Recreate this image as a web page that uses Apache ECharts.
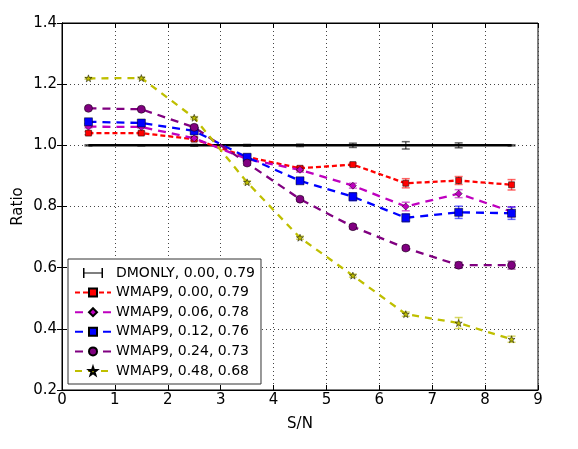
<!DOCTYPE html>
<html lang="en">
<head>
  <meta charset="UTF-8">
  <title>Ratio vs S/N</title>
  <script src="https://cdn.jsdelivr.net/npm/echarts@6/dist/echarts.min.js"></script>
  <style>
    html, body { margin: 0; padding: 0; background: #fff; }
    #chart { width: 578px; height: 449px; }
  </style>
</head>
<body>
  <div id="chart"></div>
  <script>
    // S/N bins
    var sn = [0.5, 1.5, 2.5, 3.5, 4.5, 5.5, 6.5, 7.5, 8.5]
    var xTicks = [0, 1, 2, 3, 4, 5, 6, 7, 8, 9]
    var yTicks = [0.2, 0.4, 0.6, 0.8, 1.0, 1.2, 1.4]

    // ratios
    var dmonly = [1.0, 1.0, 1.0, 1.0, 1.0, 1.0, 1.0, 1.0, 1.0]
    var dmonlyErr = [0.002, 0.002, 0.003, 0.003, 0.004, 0.007, 0.012, 0.008, 0.002]
    var w000 = [1.04, 1.04, 1.02, 0.962, 0.925, 0.937, 0.876, 0.885, 0.871]
    var w000Err = [0.005, 0.005, 0.005, 0.006, 0.006, 0.005, 0.015, 0.013, 0.017]
    var w006 = [1.061, 1.06, 1.023, 0.955, 0.92, 0.868, 0.80, 0.842, 0.783]
    var w006Err = [0.004, 0.004, 0.005, 0.006, 0.008, 0.008, 0.014, 0.013, 0.016]
    var w012 = [1.077, 1.073, 1.047, 0.961, 0.884, 0.832, 0.763, 0.781, 0.778]
    var w012Err = [0.006, 0.006, 0.008, 0.008, 0.008, 0.013, 0.013, 0.02, 0.02]
    var w024 = [1.121, 1.118, 1.059, 0.942, 0.824, 0.734, 0.664, 0.608, 0.608]
    var w024Err = [0.004, 0.004, 0.006, 0.007, 0.006, 0.007, 0.006, 0.01, 0.013]
    var w048 = [1.219, 1.22, 1.09, 0.879, 0.698, 0.574, 0.448, 0.419, 0.366]
    var w048Err = [0.003, 0.003, 0.004, 0.005, 0.005, 0.005, 0.007, 0.018, 0.01]

    var names = ['DMONLY, 0.00, 0.79', 'WMAP9, 0.00, 0.79', 'WMAP9, 0.06, 0.78',
                 'WMAP9, 0.12, 0.76', 'WMAP9, 0.24, 0.73', 'WMAP9, 0.48, 0.68']
    var values = [dmonly, w000, w006, w012, w024, w048]
    var errs = [dmonlyErr, w000Err, w006Err, w012Err, w024Err, w048Err]
    var colors = ['#000000', '#ff0000', '#bf00bf', '#0000ff', '#800080', '#bfbf00']
    var star = 'path://M0,-10L2.4,-3.2L9.5,-3.1L3.8,1.2L5.9,8.1L0,4L-5.9,8.1L-3.8,1.2L-9.5,-3.1L-2.4,-3.2Z'
    var symbols = ['none', 'rect', 'diamond', 'rect', 'circle', star]
    var sizes = [0, 6, 7, 8, 8, 7]
    var dashes = ['solid', [5, 3], [8, 6], [8, 6], [8, 6], [7, 6]]
    // errorbar-like "H" icon for the legend entry without markers
    var hIcon = 'path://M0,0H3V20H0ZM3,9H37V11H3ZM37,0H40V20H37Z'

    function pairs(ys) {
      return sn.map(function (x, i) { return [x, ys[i]] })
    }

    // vertical error bars with small caps
    function errRender(color) {
      return function (params, api) {
        var x = api.value(0), y = api.value(1), e = api.value(2)
        var top = api.coord([x, y + e])
        var bot = api.coord([x, y - e])
        var w = 4
        var st = { stroke: color, lineWidth: 1.5, opacity: 0.6 }
        return {
          type: 'group',
          children: [
            { type: 'line', shape: { x1: top[0], y1: top[1], x2: bot[0], y2: bot[1] }, style: st },
            { type: 'line', shape: { x1: top[0] - w, y1: top[1], x2: top[0] + w, y2: top[1] }, style: st },
            { type: 'line', shape: { x1: bot[0] - w, y1: bot[1], x2: bot[0] + w, y2: bot[1] }, style: st }
          ]
        }
      }
    }

    var series = []
    values.forEach(function (ys, k) {
      series.push({
        type: 'custom',
        renderItem: errRender(colors[k]),
        data: sn.map(function (x, i) { return [x, ys[i], errs[k][i]] }),
        z: 3,
        silent: true
      })
    })
    values.forEach(function (ys, k) {
      series.push({
        name: names[k],
        type: 'line',
        data: pairs(ys),
        color: colors[k],
        symbol: symbols[k],
        symbolSize: sizes[k],
        showSymbol: k > 0,
        lineStyle: { width: k === 0 ? 2.5 : 2.3, type: dashes[k], color: colors[k] },
        itemStyle: { color: colors[k], borderColor: '#000', borderWidth: 0.5 },
        z: 4
      })
    })

    var legendData = names.map(function (n, k) {
      return k === 0 ? { name: n, icon: hIcon, itemStyle: { color: '#000', borderWidth: 0 } } : { name: n }
    })

    var mCharts = echarts.init(document.getElementById('chart'))
    var option = {
      animation: false,
      textStyle: { fontFamily: 'DejaVu Sans' },
      grid: { left: 62, right: 40, top: 23, bottom: 59, show: true, borderColor: '#000', borderWidth: 1 },
      legend: {
        data: legendData,
        orient: 'vertical',
        left: 68,
        top: 259,
        itemWidth: 36,
        itemHeight: 10,
        itemGap: 5.6,
        padding: [7, 6, 6, 6],
        borderColor: '#333',
        borderWidth: 1,
        backgroundColor: '#fff',
        textStyle: { fontSize: 14, color: '#000', fontFamily: 'DejaVu Sans' }
      },
      xAxis: [{
        type: 'value',
        min: xTicks[0],
        max: xTicks[xTicks.length - 1],
        interval: 1,
        name: 'S/N',
        nameLocation: 'middle',
        nameGap: 27,
        nameTextStyle: { fontSize: 15, color: '#000' },
        axisLine: { lineStyle: { color: '#000' } },
        axisTick: { inside: true, length: 5, lineStyle: { color: '#000' } },
        axisLabel: { fontSize: 15, color: '#000', margin: 3 },
        splitLine: { show: true, lineStyle: { type: [1, 3], color: '#444' } }
      }, {
        type: 'value', position: 'top', min: 0, max: 9, interval: 1,
        axisLine: { lineStyle: { color: '#000' } },
        axisTick: { inside: true, length: 5, lineStyle: { color: '#000' } },
        axisLabel: { show: false }, splitLine: { show: false }
      }],
      yAxis: [{
        type: 'value',
        min: yTicks[0],
        max: yTicks[yTicks.length - 1],
        interval: 0.2,
        name: 'Ratio',
        nameLocation: 'middle',
        nameGap: 36,
        nameMoveOverlap: false,
        nameTextStyle: { fontSize: 15, color: '#000' },
        axisLine: { show: true, lineStyle: { color: '#000' } },
        axisTick: { show: true, inside: true, length: 5, lineStyle: { color: '#000' } },
        axisLabel: { fontSize: 15, color: '#000', margin: 5, formatter: function (v) { return v.toFixed(1) } },
        splitLine: { show: true, lineStyle: { type: [1, 3], color: '#444' } }
      }, {
        type: 'value', position: 'right', min: 0.2, max: 1.4, interval: 0.2,
        axisLine: { show: true, lineStyle: { color: '#000' } },
        axisTick: { show: true, inside: true, length: 5, lineStyle: { color: '#000' } },
        axisLabel: { show: false }, splitLine: { show: false }
      }],
      series: series
    }
    mCharts.setOption(option)
  </script>
</body>
</html>
